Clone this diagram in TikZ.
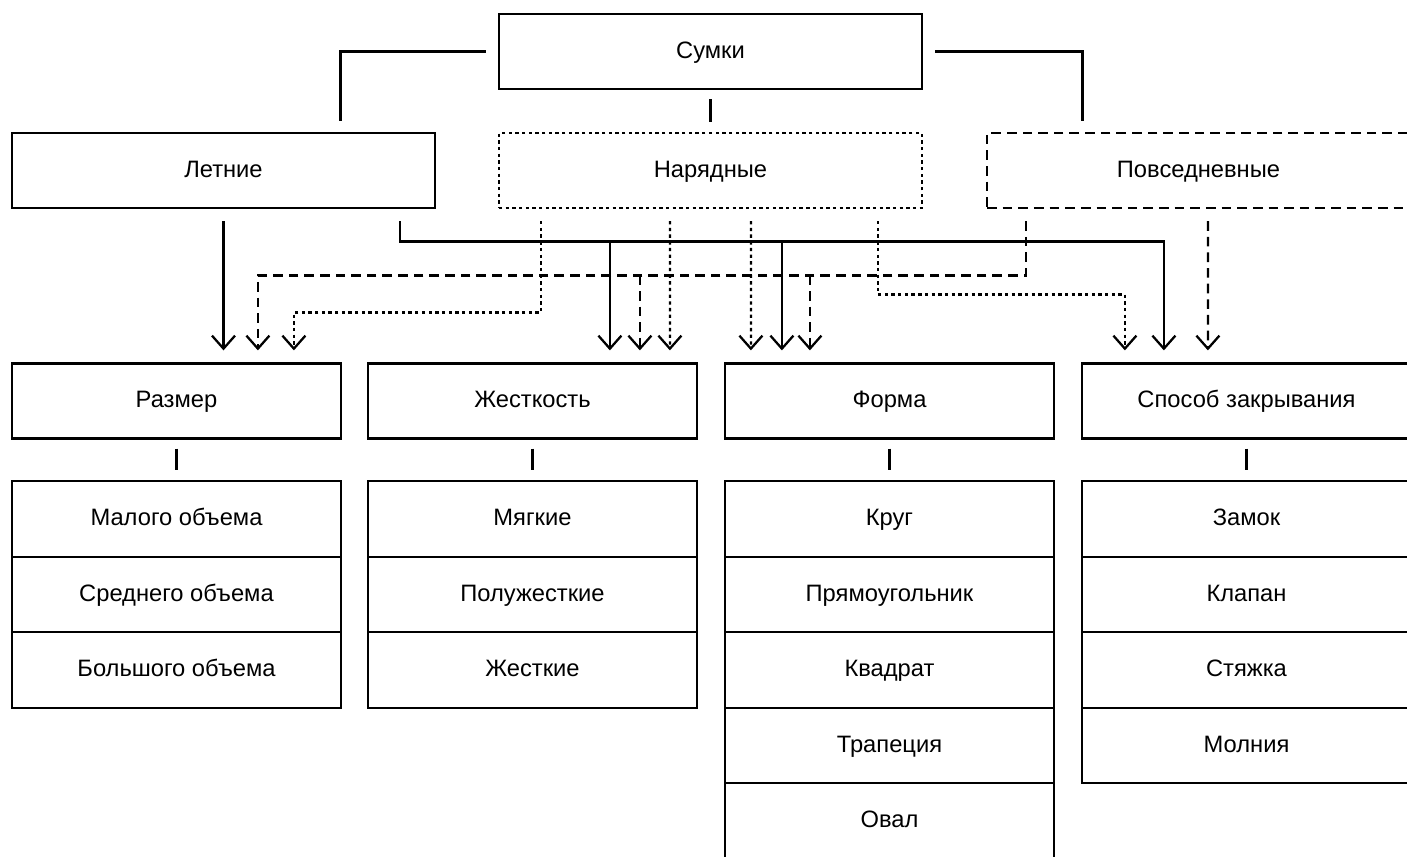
\documentclass[tikz,border=0pt]{standalone}
\usepackage{fontspec}
\setmainfont{Liberation Sans}
\usetikzlibrary{arrows.meta,calc}
\tikzset{
  box/.style={draw,line width=1.3pt,fill=white,minimum width=6.58cm,minimum height=1.5cm,inner sep=0pt,text height=0.8em,text depth=0.06em,font=\fontsize{13.5}{15}\selectfont},
  topbox/.style={box,minimum width=8.46cm},
  subbox/.style={box,minimum height=1.51cm},
  dotbox/.style={topbox,dash pattern=on 1.9pt off 1.9pt},
  dashbox/.style={topbox,dash pattern=on 5.5pt off 3.4pt},
  link/.style={line width=1.3pt},
  stub/.style={link,shorten <=0.18cm,shorten >=0.2cm},
  arr/.style={-{Straight Barb[length=2.6mm,width=4.6mm]},line width=1.3pt},
  arrdash/.style={arr,dash pattern=on 5.5pt off 3.4pt},
  arrdot/.style={arr,dash pattern=on 1.9pt off 1.9pt}
}
\begin{document}
\begin{tikzpicture}[x=0.02cm,y=-0.02cm]
\useasboundingbox (0,0) rectangle (1407,856);
\node[topbox] (bags) at (710.5,51.5) {Сумки};
\node[topbox] (summer) at (223.5,170.5) {Летние}; \node[dotbox] (fancy) at (710.5,170.5) {Нарядные}; \node[dashbox] (daily) at (1198.5,170.5) {Повседневные};
\draw[link] ($(bags.west)+(-12,0)$) -| ($(summer.north)+(117,-11)$);
\draw[link] ($(bags.east)+(12,0)$) -| ($(daily.north)+(-116,-11)$);
\draw[stub] (bags) -- (fancy);
\node[box] (size) at (176.5,401) {Размер}; \node[box] (stiff) at (532.5,401) {Жесткость}; \node[box] (shape) at (889.5,401) {Форма}; \node[box] (closing) at (1246.5,401) {Способ закрывания};
\node[subbox] (small) at (176.5,519) {Малого объема}; \node[subbox] (medium) at (176.5,594.5) {Среднего объема}; \node[subbox] (large) at (176.5,670) {Большого объема};
\node[subbox] (soft) at (532.5,519) {Мягкие}; \node[subbox] (semi) at (532.5,594.5) {Полужесткие}; \node[subbox] (hard) at (532.5,670) {Жесткие};
\node[subbox] (circle) at (889.5,519) {Круг}; \node[subbox] (rect) at (889.5,594.5) {Прямоугольник}; \node[subbox] (square) at (889.5,670) {Квадрат}; \node[subbox] (trap) at (889.5,745.5) {Трапеция}; \node[subbox] (oval) at (889.5,821) {Овал};
\node[subbox] (lock) at (1246.5,519) {Замок}; \node[subbox] (flap) at (1246.5,594.5) {Клапан}; \node[subbox] (cord) at (1246.5,670) {Стяжка}; \node[subbox] (zip) at (1246.5,745.5) {Молния};
\draw[stub] (size) -- (small); \draw[stub] (stiff) -- (soft); \draw[stub] (shape) -- (circle); \draw[stub] (closing) -- (lock);
\draw[arr] ($(summer.south)+(0,12)$) -- ($(summer.south |- size.north)+(0,-12)$);
\draw[arr] ($(summer.south east)+(-36,12)$) |- ($(closing.north west)+(83,-121)$) -- ++(0,109);
\draw[arr] ($(stiff.north west)+(243,-121)$) -- ++(0,109);
\draw[arr] ($(shape.north west)+(58,-121)$) -- ++(0,109);
\draw[arrdash] ($(daily.south west)+(40,12)$) |- ($(size.north west)+(247,-87)$) -- ++(0,75);
\draw[arrdash] ($(stiff.north west)+(273,-87)$) -- ++(0,75);
\draw[arrdash] ($(shape.north west)+(86,-87)$) -- ++(0,75);
\draw[arrdash] ($(daily.south west)+(222,12)$) -- ($(closing.north west)+(127,-12)$);
\draw[arrdot] ($(fancy.south west)+(43,12)$) |- ($(size.north west)+(283,-50)$) -- ++(0,38);
\draw[arrdot] ($(fancy.south west)+(172,12)$) -- ($(stiff.north west)+(303,-12)$);
\draw[arrdot] ($(fancy.south west)+(253,12)$) -- ($(shape.north west)+(27,-12)$);
\draw[arrdot] ($(fancy.south west)+(380,12)$) |- ($(closing.north west)+(44,-68)$) -- ++(0,56);
\end{tikzpicture}
\end{document}
